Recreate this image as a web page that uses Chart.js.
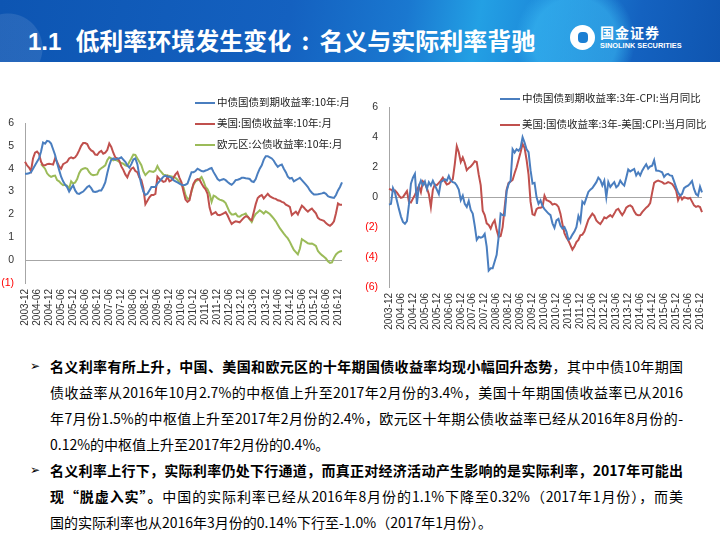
<!DOCTYPE html>
<html>
<head>
<meta charset="utf-8">
<script src="https://cdn.jsdelivr.net/npm/chart.js@4.4.1/dist/chart.umd.min.js"></script>
<style>
  body { margin: 0; width: 720px; height: 540px; position: relative; overflow: hidden; background: #fff;
         font-family: "Noto Sans CJK SC", "Noto Sans", sans-serif; }
  #header { position: absolute; left: 0; top: 0; width: 720px; height: 62px;
    background:
      radial-gradient(circle at 8px 48px, rgba(255,255,255,0.10) 0 34px, rgba(255,255,255,0) 35px),
      radial-gradient(circle at 575px 40px, rgba(60,190,245,0.55) 0 42px, rgba(60,190,245,0) 60px),
      linear-gradient(100deg, #0d55b2 0%, #1461c0 40%, #1a78d0 56%, #23a0e4 66%, #1c86d8 76%, #1462c0 88%, #0f55b0 100%); }
  #title { position: absolute; left: 28px; top: 25px; color: #fff; font-size: 24px; font-weight: bold;
           line-height: 30px; white-space: nowrap; }
  #title b { font-family: "Liberation Sans", sans-serif; margin-right: 14px; }
  #title .c { display: inline-block; width: 28px; text-align: center; }
  #logo-c { position: absolute; left: 570px; top: 25px; width: 25px; height: 25px; border-radius: 50%; background: #fff; }
  #logo-c::after { content: ""; position: absolute; left: 8px; top: 7px; width: 10px; height: 11px; border-radius: 4px; background: #1b7fd3; }
  #logo-t { position: absolute; left: 600px; top: 24px; color: #fff; font-size: 14px; font-weight: bold; line-height: 16px; letter-spacing: 1px; }
  #logo-e { position: absolute; left: 600px; top: 41px; color: #fff; font-size: 7.4px; font-weight: bold; line-height: 9px;
            font-family: "Liberation Sans", sans-serif; white-space: nowrap; }
  canvas { position: absolute; }
  .lg { position: absolute; font-size: 10.5px; color: #222; line-height: 13px; white-space: nowrap; }
  .lg i { display: inline-block; width: 20px; height: 2.5px; vertical-align: middle; margin-right: 2px; }
  #text { position: absolute; left: 0; top: 353px; width: 720px; font-size: 14px; line-height: 26px; color: #000; }
  .ln { position: relative; left: 50px; width: 633px; white-space: nowrap; }
  .ln.j { text-align: justify; text-align-last: justify; }
  .bl { position: absolute; left: -20px; top: 0; font-size: 12px; font-family: "DejaVu Sans", sans-serif; }
</style>
</head>
<body>
<div id="header">
  <div id="title"><b>1.1</b>低利率环境发生变化<span class="c">:</span>名义与实际利率背驰</div>
  <div id="logo-c"></div>
  <div id="logo-t">国金证券</div>
  <div id="logo-e">SINOLINK SECURITIES</div>
</div>

<canvas id="left" width="360" height="240" style="left:0;top:100px"></canvas>
<canvas id="right" width="360" height="250" style="left:360px;top:90px"></canvas>

<div class="lg" style="left:195px;top:95px"><i style="background:#4a7ebf"></i>中债国债到期收益率:10年:月</div>
<div class="lg" style="left:195px;top:116px"><i style="background:#c0504d"></i>美国:国债收益率:10年:月</div>
<div class="lg" style="left:195px;top:137px"><i style="background:#9bbb59"></i>欧元区:公债收益率:10年:月</div>
<div class="lg" style="left:500px;top:91px"><i style="background:#4a7ebf"></i>中债国债到期收益率:3年-CPI:当月同比</div>
<div class="lg" style="left:500px;top:117px"><i style="background:#c0504d"></i>美国:国债收益率:3年-美国:CPI:当月同比</div>

<div id="text">
  <div class="ln j"><span class="bl">➢</span><b>名义利率有所上升，中国、美国和欧元区的十年期国债收益率均现小幅回升态势</b>，其中中债10年期国</div>
  <div class="ln j">债收益率从2016年10月2.7%的中枢值上升至2017年2月份的3.4%，美国十年期国债收益率已从2016</div>
  <div class="ln j">年7月份1.5%的中枢值上升至2017年2月份的2.4%，欧元区十年期公债收益率已经从2016年8月份的-</div>
  <div class="ln">0.12%的中枢值上升至2017年2月份的0.4%。</div>
  <div class="ln j"><span class="bl">➢</span><b>名义利率上行下，实际利率仍处下行通道，而真正对经济活动产生影响的是实际利率，2017年可能出</b></div>
  <div class="ln j"><b>现“脱虚入实”。</b>中国的实际利率已经从2016年8月份的1.1%下降至0.32%（2017年1月份），而美</div>
  <div class="ln">国的实际利率也从2016年3月份的0.14%下行至-1.0%（2017年1月份）。</div>
</div>

<script>
// monthly, 2003-12 .. 2017-02 (left) / 2003-12 .. 2017-01 (right)
const cn10y = [
  3.78, 3.78, 3.8, 3.85, 4.0, 4.15, 4.3, 4.45, 4.75, 5.15, 5.1, 5.22, 5.2,
  5.1, 4.85, 4.6, 4.25, 3.95, 3.65, 3.45, 3.3, 3.2, 3.0, 3.15, 3.27,
  3.05, 2.92, 2.9, 2.95, 3.0, 3.1, 3.2, 3.25, 3.15, 3.0, 2.98, 3.0,
  3.05, 3.05, 3.2, 3.4, 3.8, 4.15, 4.4, 4.45, 4.4, 4.45, 4.45, 4.5,
  4.4, 4.3, 4.15, 4.05, 4.2, 4.4, 4.45, 4.2, 3.7, 3.3, 3.0, 2.85,
  2.9, 3.05, 3.2, 3.2, 3.2, 3.35, 3.45, 3.55, 3.65, 3.7, 3.65, 3.65,
  3.6, 3.5, 3.45, 3.4, 3.35, 3.3, 3.28, 3.3, 3.35, 3.6, 3.85, 3.85,
  3.9, 4.0, 3.95, 3.9, 3.88, 3.92, 3.95, 4.0, 4.03, 3.85, 3.7, 3.55,
  3.48, 3.52, 3.55, 3.5, 3.42, 3.35, 3.3, 3.38, 3.5, 3.52, 3.55, 3.6,
  3.6, 3.58, 3.57, 3.55, 3.45, 3.42, 3.55, 3.8, 4.0, 4.15, 4.4, 4.55,
  4.55, 4.5, 4.45, 4.35, 4.2, 4.08, 4.15, 4.18, 4.0, 3.85, 3.65, 3.57,
  3.6, 3.45, 3.5, 3.55, 3.6, 3.5, 3.4, 3.3, 3.2, 3.05, 2.95, 2.87,
  2.87, 2.88, 2.9, 2.92, 2.95, 2.9, 2.8, 2.76, 2.74, 2.72, 2.85, 3.05,
  3.2, 3.4
];
const us10y = [
  4.3, 4.15, 4.05, 3.9, 4.45, 4.7, 4.75, 4.65, 4.3, 4.15, 4.15, 4.2, 4.22,
  4.2, 4.18, 4.45, 4.3, 4.1, 4.0, 4.2, 4.25, 4.3, 4.45, 4.5, 4.45,
  4.5, 4.62, 4.8, 5.0, 5.12, 5.12, 5.08, 4.9, 4.8, 4.75, 4.62, 4.6,
  4.72, 4.78, 4.66, 4.7, 4.82, 5.1, 4.95, 4.7, 4.5, 4.45, 4.35, 4.1,
  3.95, 3.75, 3.62, 3.85, 4.0, 4.05, 3.9, 3.85, 3.62, 3.5, 3.15, 2.45,
  2.6, 2.75, 2.85, 2.85, 2.9, 3.65, 3.55, 3.5, 3.42, 3.45, 3.65, 3.45,
  3.5, 3.6, 3.75, 3.85, 3.6, 3.4, 3.0, 2.65, 2.55, 2.62, 3.05, 3.35,
  3.5, 3.55, 3.52, 3.35, 3.2, 3.1, 2.9, 2.3, 2.0, 2.05, 2.1, 1.98,
  1.97, 2.0, 2.05, 2.1, 1.95, 1.75, 1.58, 1.65, 1.7, 1.68, 1.65, 1.75,
  1.85, 1.92, 1.9, 1.8, 1.75, 2.1, 2.45, 2.72, 2.8, 2.85, 2.7, 2.8,
  2.9, 2.8, 2.75, 2.7, 2.68, 2.62, 2.6, 2.55, 2.52, 2.43, 2.38, 2.33,
  1.97, 2.05, 2.12, 2.0, 2.2, 2.38, 2.3, 2.2, 2.12, 2.2, 2.26, 2.15,
  2.05, 1.85, 1.78, 1.75, 1.72, 1.62, 1.55, 1.5, 1.58, 1.7, 2.05, 2.48,
  2.42, 2.42
];
const eu10y = [
  null, null, null, null, null, null, null, null, 4.2, 4.1, 4.0, 3.8, 3.7,
  3.64, 3.68, 3.7, 3.5, 3.45, 3.35, 3.28, 3.3, 3.25, 3.12, 3.45, 3.35,
  3.4, 3.55, 3.8, 3.95, 4.0, 4.03, 4.0, 3.85, 3.75, 3.72, 3.73, 3.75,
  3.95, 4.02, 4.08, 4.15, 4.37, 4.5, 4.45, 4.37, 4.4, 4.35, 4.3, 4.25,
  4.22, 4.15, 4.12, 4.3, 4.45, 4.62, 4.6, 4.45, 4.3, 4.15, 3.88, 3.72,
  3.82, 3.9, 3.88, 3.86, 3.92, 4.12, 3.95, 3.85, 3.74, 3.72, 3.7, 3.68,
  3.66, 3.64, 3.6, 3.52, 3.4, 3.3, 3.18, 2.85, 2.68, 2.7, 3.0, 3.3,
  3.45, 3.5, 3.55, 3.64, 3.45, 3.2, 3.1, 2.9, 2.55, 2.82, 2.78, 2.7,
  2.65, 2.62, 2.58, 2.5, 2.3, 2.1, 2.0, 2.0, 2.04, 1.92, 1.9, 1.97,
  2.0, 2.04, 1.9, 1.78, 1.67, 1.88, 2.02, 2.1, 2.18, 2.12, 2.04, 2.14,
  2.08, 2.02, 1.92, 1.82, 1.7, 1.55, 1.4, 1.28, 1.16, 1.05, 0.95, 0.8,
  0.62, 0.45, 0.35, 0.25, 0.5, 0.92, 0.86, 0.8, 0.74, 0.72, 0.73, 0.68,
  0.62, 0.4, 0.3, 0.22, 0.15, 0.07, -0.05, -0.12, -0.1, 0.1, 0.25, 0.33,
  0.38, 0.4
];
const cnReal = [
  -0.5, -0.45, 0.6, 0.3, -0.25, -0.8, -1.3, -1.65, -1.78, -1.6, -0.5, 0.9, 1.3,
  1.55, -0.45, 0.75, 1.1, 0.8, 1.05, 0.55, 1.0, 0.78, 1.1, 0.8, 0.5,
  0.2, 1.0, 1.1, 1.2, 1.1, 1.42, 1.1, 1.0, 0.95, 0.78, 0.5, -0.2,
  0.1, -0.45, -0.65, -0.25, -0.85, -1.1, -1.9, -2.85, -2.65, -2.7, -2.65, -2.45,
  -3.3, -4.9, -4.75, -4.75, -4.3, -3.85, -2.65, -1.1, -1.2, -1.22, 0.4, 0.88,
  1.1, 3.2, 2.98, 3.2, 3.1, 3.3, 4.0, 3.64, 3.2, 3.0, 1.8, 0.9,
  0.95, 0.0, -0.44, -0.22, -0.6, -0.8, -0.95, -1.1, -1.2, -1.75, -2.05, -1.55,
  -1.45, -1.9, -2.1, -2.0, -2.3, -2.85, -2.75, -2.5, -2.3, -2.0, -1.25, -1.6,
  -0.3, -0.45, -0.05, 0.35, 0.5, 0.6, 0.8, 1.0, 1.3, 1.15, 0.78, 1.1,
  0.0, 1.0, 0.68, 0.85, 1.0, 0.66, 0.78, 1.1, 0.9, 0.77, 1.3, 1.85,
  1.72, 1.8, 1.88, 1.45, 1.66, 1.45, 1.77, 2.0, 2.2, 1.9, 2.05, 2.1,
  2.47, 1.78, 1.77, 1.72, 1.66, 1.35, 1.5, 1.55, 1.45, 1.42, 1.05, 0.65,
  0.3, 0.1, 0.22, 0.6, 0.7, 0.77, 0.9, 1.08, 0.55, 0.2, 0.1, 0.7, 0.32
];
const usReal = [
  0.55, 0.5, 0.4, 0.45, 0.3, 0.1, -0.05, 0.0, 0.2, 0.4, -0.3, -0.35, -0.1,
  0.15, 0.45, 0.75, 0.33, 1.05, 0.9, 0.6, 0.2, -0.66, 0.5, 0.85, 0.8,
  0.95, 1.1, 1.3, 1.05, 0.85, 0.9, 1.05, 1.2, 2.2, 3.4, 3.0, 2.35,
  2.65, 2.3, 1.8, 1.95, 2.05, 2.2, 2.4, 2.35, 1.5, 0.8, -0.9, -1.2,
  -1.75, -1.85, -2.1, -1.75, -1.55, -2.2, -2.65, -2.6, -2.0, -0.7, 0.5, 0.95,
  1.05, 1.15, 1.6, 2.0, 2.5, 3.0, 3.55, 3.3, 2.5, 1.5, -0.3, -1.15,
  -1.2, -0.8, -0.7, -0.7, -0.66, 0.1, -0.2, -0.25, -0.33, -0.5, -0.45, -0.5,
  -0.65, -1.1, -1.8, -2.4, -2.7, -2.9, -3.2, -3.5, -3.3, -3.0, -2.85, -2.55,
  -2.5, -2.3, -1.9, -1.5, -1.3, -1.1, -1.25, -1.55, -1.7, -1.8, -1.6, -1.35,
  -1.42, -1.3, -1.2, -1.32, -1.1, -0.85, -0.78, -1.0, -1.2, -1.0, -0.7, -0.6,
  -0.55, -0.65, -0.95, -1.15, -1.21, -1.2, -1.0, -0.85, -0.7, -0.6, -0.4, 0.3,
  0.95, 1.05, 1.1, 1.05, 1.0, 0.9, 0.92, 1.0, 0.95, 0.88, 0.7, 0.45,
  -0.2, 0.1, -0.15, 0.0, -0.05, -0.1, -0.05, -0.3, -0.55, -0.65, -0.6, -0.66, -1.0
];

function monthLabels(year, month, count) {
  const out = [];
  for (let k = 0; k < count; k++) {
    out.push(`${year}-${String(month).padStart(2, "0")}`);
    month++;
    if (month > 12) { month = 1; year++; }
  }
  return out;
}

const leftMonths = monthLabels(2003, 12, cn10y.length);
const rightMonths = monthLabels(2003, 12, cnReal.length);

const BLUE = "#4a7ebf", RED = "#c0504d", GREEN = "#9bbb59";

Chart.defaults.font.family = '"Liberation Sans", Arial, sans-serif';

function lineChart(id, labels, series, yMin, yMax, yStep, yWidth, padding) {
  return new Chart(document.getElementById(id), {
    type: "line",
    data: {
      labels,
      datasets: series.map(([data, color]) => ({
        data, borderColor: color, borderWidth: 2, pointRadius: 0, tension: 0, fill: false,
      })),
    },
    options: {
      responsive: false,
      animation: false,
      layout: { padding },
      plugins: { legend: { display: false }, tooltip: { enabled: false } },
      scales: {
        x: {
          grid: { display: false, drawTicks: false },
          border: { display: false },
          ticks: {
            autoSkip: false, minRotation: 90, maxRotation: 90, padding: 6,
            color: "#333", font: { size: 10 },
            callback: (v, i) => (i % 6 === 0 ? labels[i] : ""),
          },
          afterFit: (s) => { s.height = 50; },
        },
        y: {
          min: yMin, max: yMax,
          grid: { drawTicks: false, color: (c) => (c.tick.value === 0 ? "#a6a6a6" : "rgba(0,0,0,0)") },
          border: { color: "#a6a6a6" },
          ticks: {
            stepSize: yStep, padding: 11, font: { size: 10.5 },
            color: (c) => (c.tick.value < 0 ? "#ff0000" : "#333"),
            callback: (v) => (v < 0 ? `(${-v})` : v),
          },
          afterFit: (s) => { s.width = yWidth; },
        },
      },
    },
  });
}

lineChart("left", leftMonths, [[cn10y, BLUE], [us10y, RED], [eu10y, GREEN]], -1, 6, 1, 25,
  { top: 23, right: 6, bottom: 7, left: 0 });
lineChart("right", rightMonths, [[cnReal, BLUE], [usReal, RED]], -6, 6, 2, 29,
  { top: 16, right: 7, bottom: 3, left: 0 });
</script>
</body>
</html>
